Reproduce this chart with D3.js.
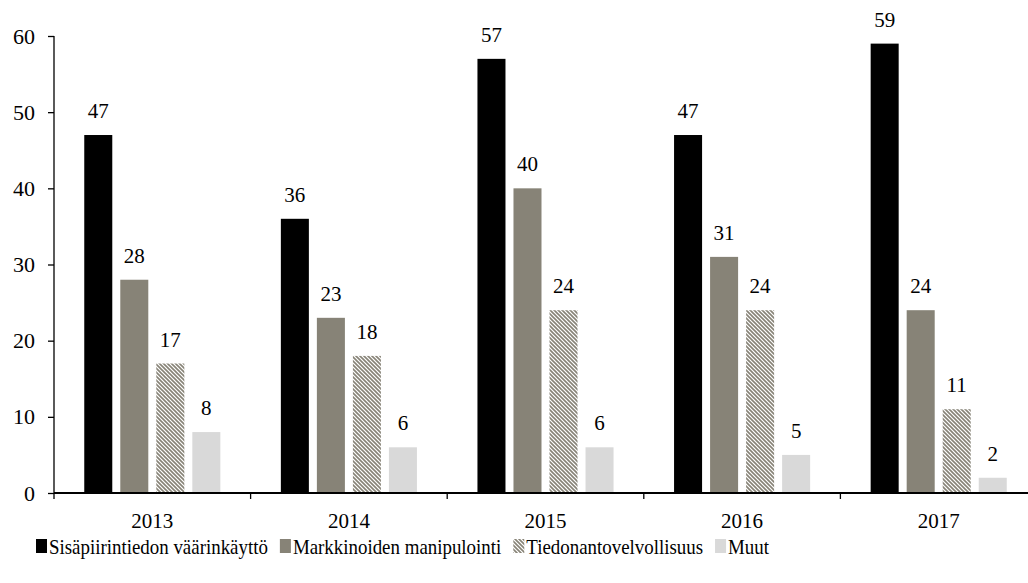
<!DOCTYPE html>
<html>
<head>
<meta charset="utf-8">
<script src="https://cdn.jsdelivr.net/npm/d3@7"></script>
<style>
body { margin: 0; background: #fff; }
svg { display: block; }
svg text { font-family: "Liberation Serif", "Times New Roman", serif; }
</style>
</head>
<body>
<svg id="chart" width="1028" height="583"></svg>
<script>
const years = ["2013", "2014", "2015", "2016", "2017"];
const seriesNames = ["Sisäpiirintiedon väärinkäyttö", "Markkinoiden manipulointi", "Tiedonantovelvollisuus", "Muut"];
const sisapiiri = [47, 36, 57, 47, 59];
const markkinat = [28, 23, 40, 31, 24];
const tiedonanto = [17, 18, 24, 24, 11];
const muut = [8, 6, 6, 5, 2];
const yTicks = [0, 10, 20, 30, 40, 50, 60];

const seriesValues = [sisapiiri, markkinat, tiedonanto, muut];
const fills = ["#000000", "#878377", "url(#hatch)", "#d9d9d9"];
const FONT = "Liberation Serif";

const svg = d3.select("#chart");
const defs = svg.append("defs");
const pat = defs.append("pattern").attr("id", "hatch")
  .attr("patternUnits", "userSpaceOnUse").attr("width", 4).attr("height", 4);
pat.append("rect").attr("width", 4).attr("height", 4).attr("fill", "#ffffff");
pat.append("path").attr("d", "M-1,-1L5,5M-1,3L1,5M3,-1L5,1")
  .attr("stroke", "#878377").attr("stroke-width", 1.6);

const x0 = 54, x1 = 1037, yTop = 36, yBot = 493;
const x = d3.scaleBand().domain(years).range([x0, x1]).padding(0);
const xi = d3.scaleBand().domain(d3.range(4)).range([0, x.bandwidth()])
  .paddingInner(8 / 36).paddingOuter(0.84);
const y = d3.scaleLinear().domain([0, 60]).range([yBot, yTop]);

years.forEach((yr, i) => {
  seriesValues.forEach((vals, s) => {
    const v = vals[i];
    const bx = x(yr) + xi(s);
    svg.append("rect")
      .attr("x", bx).attr("y", y(v))
      .attr("width", xi.bandwidth()).attr("height", y(0) - y(v))
      .attr("fill", fills[s]);
    svg.append("text")
      .attr("x", bx + xi.bandwidth() / 2).attr("y", y(v) - 17)
      .attr("text-anchor", "middle").attr("font-family", FONT).attr("font-size", 21).attr("fill", "#000")
      .text(v);
  });
});

const yAxis = svg.append("g").attr("transform", `translate(${x0},0)`)
  .call(d3.axisLeft(y).tickValues(yTicks).tickSize(6).tickPadding(13))
  .attr("font-family", FONT).attr("font-size", 22);
yAxis.select(".domain").attr("stroke", "#000").attr("stroke-width", 1.3).attr("d", `M0,${yTop}V${yBot}`);
yAxis.selectAll(".tick line").attr("stroke", "#000").attr("stroke-width", 1.3);
yAxis.selectAll(".tick text").attr("font-size", 22).attr("font-family", FONT).attr("fill", "#000");

const xAxisG = svg.append("g").attr("transform", `translate(0,${yBot})`);
xAxisG.append("line").attr("x1", x0).attr("x2", x1).attr("stroke", "#000").attr("stroke-width", 2);
const tickPos = years.map(yr => x(yr)).concat([x1]);
xAxisG.selectAll("line.tk").data(tickPos).enter().append("line").attr("class", "tk")
  .attr("x1", d => d).attr("x2", d => d).attr("y1", 0).attr("y2", 6)
  .attr("stroke", "#000").attr("stroke-width", 1.3);
xAxisG.selectAll("text").data(years).enter().append("text")
  .attr("x", d => x(d) + x.bandwidth() / 2).attr("y", 35)
  .attr("text-anchor", "middle").attr("font-family", FONT).attr("font-size", 21).attr("fill", "#000")
  .text(d => d);

const leg = svg.append("g");
let lx = 36;
const ly = 554;
seriesNames.forEach((name, s) => {
  leg.append("rect").attr("x", lx).attr("y", ly - 15).attr("width", 11).attr("height", 14)
    .attr("fill", fills[s]);
  const t = leg.append("text").attr("x", lx + 13).attr("y", ly)
    .attr("font-family", FONT).attr("font-size", 21).attr("fill", "#000").text(name);
  const w = t.node().getComputedTextLength() * 0.9;
  t.attr("textLength", w).attr("lengthAdjust", "spacingAndGlyphs");
  lx += 13 + w + 12;
});
</script>
</body>
</html>
